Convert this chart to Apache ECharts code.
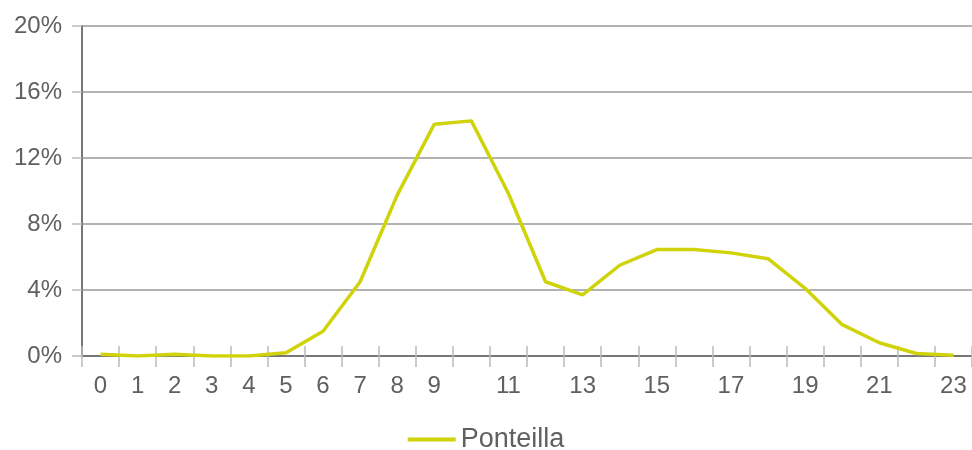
<!DOCTYPE html>
<html><head><meta charset="utf-8">
<script src="https://cdn.jsdelivr.net/npm/echarts@6/dist/echarts.min.js"></script>
<style>html,body{margin:0;padding:0;background:#fff}#c{width:972px;height:450px}</style>
</head><body><div id="c"></div>
<script>
const categories = ["0","1","2","3","4","5","6","7","8","9","10","11","12","13","14","15","16","17","18","19","20","21","22","23"];
const ponteilla = [0.1,0.0,0.1,0.0,0.0,0.2,1.5,4.5,9.75,14.05,14.25,9.85,4.5,3.7,5.5,6.45,6.45,6.25,5.9,4.1,1.9,0.8,0.15,0.05];
const yTicks = [0,4,8,12,16,20];
const seriesName = "Ponteilla";

const chart = echarts.init(document.getElementById('c'));
const font = "'Liberation Sans', sans-serif";
chart.setOption({
  animation:false,
  grid:{left:82,right:0,top:26,bottom:94},
  legend:{top:421,left:'center',itemWidth:48,itemHeight:4,itemGap:10,
    icon:'rect',
    textStyle:{fontSize:27,color:'#606060',fontFamily:font},
    data:[seriesName]},
  xAxis:[{
    type:'category',data:categories,boundaryGap:true,
    axisLine:{lineStyle:{color:'#777',width:2}},
    axisTick:{show:true,length:11,lineStyle:{color:'#bbb',width:1.5},interval:0},
    axisLabel:{fontSize:24,color:'#606060',fontFamily:font,margin:18,
      interval:function(i){return i<10 || i%2===1;}}
  },{
    type:'category',data:categories,boundaryGap:true,position:'bottom',
    axisLine:{show:false},
    axisTick:{show:true,inside:true,length:10,lineStyle:{color:'#bbb',width:1.5},interval:0},
    axisLabel:{show:false}
  }],
  yAxis:{
    type:'value',min:yTicks[0],max:yTicks[yTicks.length-1],interval:4,
    axisLine:{show:true,lineStyle:{color:'#777',width:2}},
    axisTick:{show:true,length:10,lineStyle:{color:'#bbb',width:1.5}},
    splitLine:{lineStyle:{color:'#999',width:1.5}},
    axisLabel:{fontSize:24,color:'#606060',fontFamily:font,margin:20,formatter:'{value}%'}
  },
  series:[{
    name:seriesName,type:'line',data:ponteilla,symbol:'none',
    lineStyle:{color:'#d0d30a',width:3.5},
    itemStyle:{color:'#d0d30a'}
  }]
});
</script></body></html>
